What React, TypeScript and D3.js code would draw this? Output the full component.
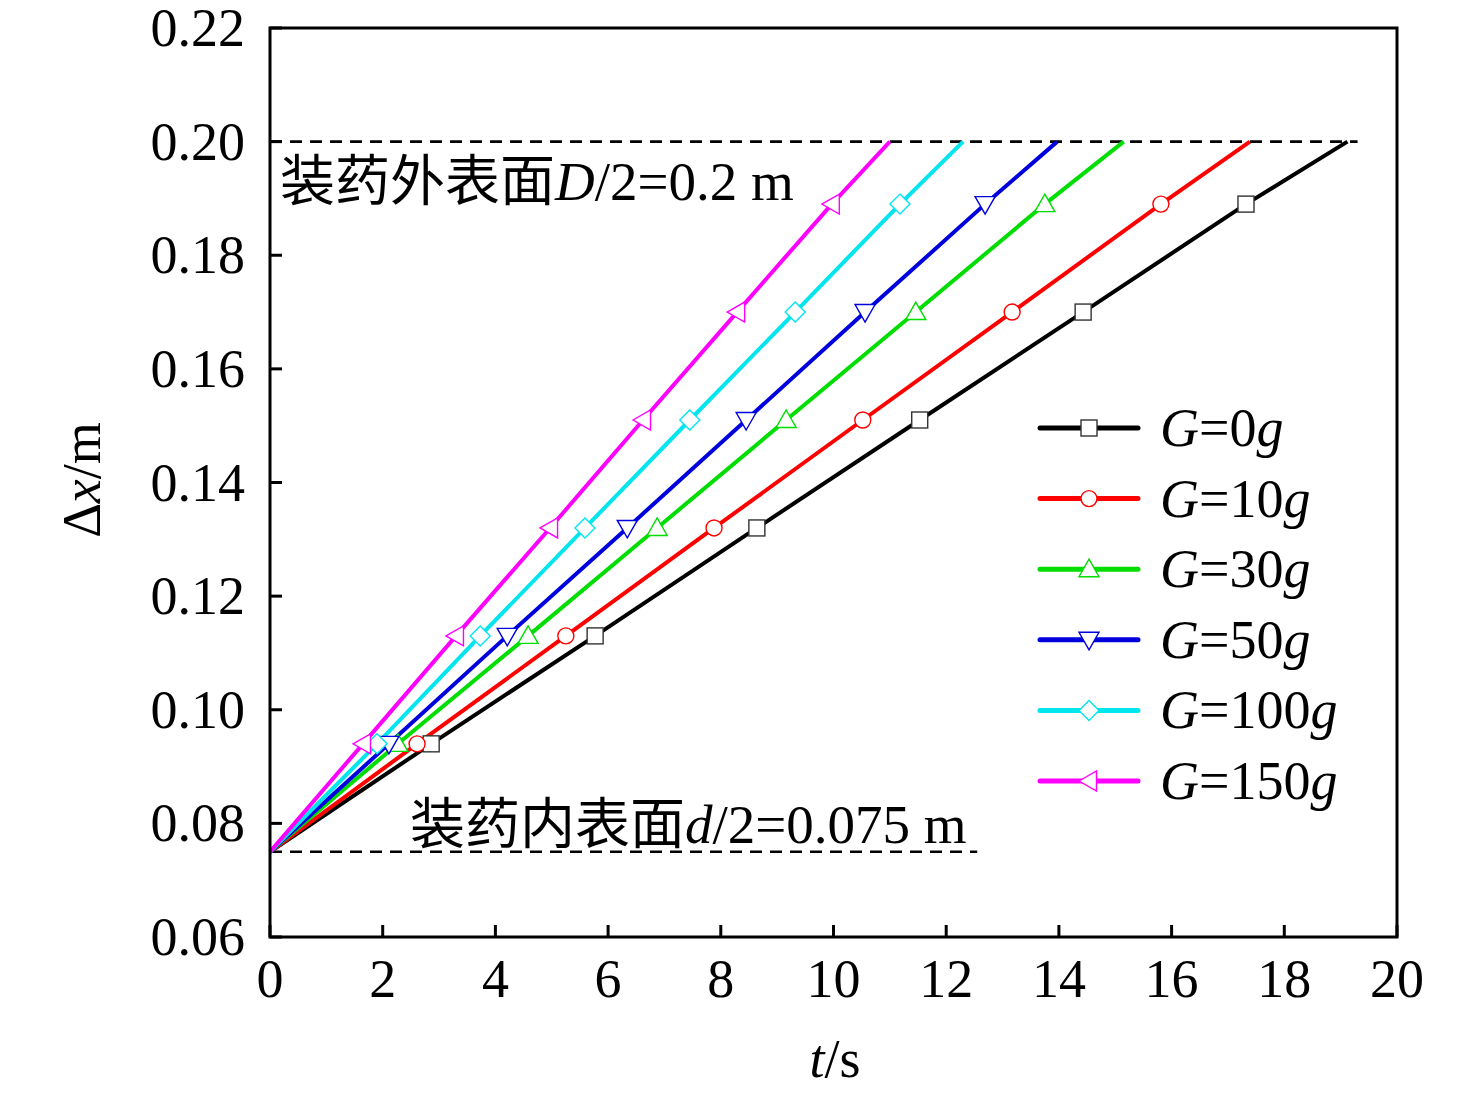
import React from 'react';
import * as d3 from 'd3';

// displacement levels shared by all series (start, six markers, outer surface)
const dxLevels = [0.075, 0.094, 0.113, 0.132, 0.151, 0.17, 0.189, 0.2];

const seriesNames = ['0', '10', '30', '50', '100', '150'];
const seriesColors = ['#000000', '#ff0000', '#00dd00', '#0000dd', '#00e5ee', '#ff00ff'];
const seriesSymbols = ['square', 'circle', 'up', 'down', 'diamond', 'left'];

// time (s) at which each series reaches the levels above
const timesG0 = [0, 2.86, 5.77, 8.64, 11.53, 14.43, 17.32, 19.12];
const timesG10 = [0, 2.61, 5.25, 7.88, 10.52, 13.17, 15.81, 17.39];
const timesG30 = [0, 2.27, 4.58, 6.87, 9.16, 11.46, 13.75, 15.15];
const timesG50 = [0, 2.11, 4.21, 6.34, 8.45, 10.56, 12.69, 13.97];
const timesG100 = [0, 1.9, 3.73, 5.59, 7.45, 9.32, 11.18, 12.3];
const timesG150 = [0, 1.65, 3.3, 4.97, 6.62, 8.29, 9.97, 11.0];
const seriesTimes = [timesG0, timesG10, timesG30, timesG50, timesG100, timesG150];

const xTicks = [0, 2, 4, 6, 8, 10, 12, 14, 16, 18, 20];
const yTicks = [0.06, 0.08, 0.1, 0.12, 0.14, 0.16, 0.18, 0.2, 0.22];

const outerSurface = 0.2;
const outerEndT = 19.3;
const innerSurface = 0.075;
const innerEndT = 12.55;

const W = 1476;
const H = 1095;
const M = { left: 270, right: 1397, top: 28, bottom: 937 };
const serif = '"Liberation Serif", "Times New Roman", serif';
const cjk = '"Noto Sans CJK SC", sans-serif';

const x = d3.scaleLinear().domain([0, 20]).range([M.left, M.right]);
const y = d3.scaleLinear().domain([0.06, 0.22]).range([M.bottom, M.top]);

const line = d3
  .line<[number, number]>()
  .x((d) => x(d[0]))
  .y((d) => y(d[1]));

function Marker({ kind, cx, cy, color }: { kind: string; cx: number; cy: number; color: string }) {
  const s = 8;
  const common = { fill: '#fff', stroke: color, strokeWidth: 1.4 };
  if (kind === 'square') return <rect x={cx - s} y={cy - s} width={2 * s} height={2 * s} {...common} stroke="#333" />;
  if (kind === 'circle') return <circle cx={cx} cy={cy} r={s} {...common} />;
  let pts: number[][] = [];
  const t = 10;
  if (kind === 'up') pts = [[0, -t], [t, t * 0.75], [-t, t * 0.75]];
  if (kind === 'down') pts = [[0, t], [t, -t * 0.75], [-t, -t * 0.75]];
  if (kind === 'left') pts = [[-t, 0], [t * 0.75, -t], [t * 0.75, t]];
  if (kind === 'diamond') pts = [[0, -t], [t, 0], [0, t], [-t, 0]];
  return <polygon points={pts.map((p) => `${cx + p[0]},${cy + p[1]}`).join(' ')} {...common} />;
}

const App: React.FC = () => {
  const legendX = 1040;
  const legendY0 = 428;
  const legendStep = 70.6;

  return (
    <svg width={W} height={H} style={{ position: 'absolute', left: 0, top: 0, background: '#fff' }}>
      {/* reference surfaces */}
      <line x1={x(0)} x2={x(outerEndT)} y1={y(outerSurface)} y2={y(outerSurface)} stroke="#000" strokeWidth={2.6} strokeDasharray="12 8" />
      <line x1={x(0)} x2={x(innerEndT)} y1={y(innerSurface)} y2={y(innerSurface)} stroke="#000" strokeWidth={2.6} strokeDasharray="12 8" />

      {/* series lines */}
      {seriesTimes.map((ts, i) => (
        <path
          key={`l${i}`}
          d={line(ts.map((t, j) => [t, dxLevels[j]] as [number, number])) || ''}
          fill="none"
          stroke={seriesColors[i]}
          strokeWidth={4}
          strokeLinejoin="round"
        />
      ))}
      {seriesTimes.map((ts, i) =>
        ts.slice(1, 7).map((t, j) => (
          <Marker key={`m${i}-${j}`} kind={seriesSymbols[i]} cx={x(t)} cy={y(dxLevels[j + 1])} color={seriesColors[i]} />
        ))
      )}

      {/* annotations */}
      <text x={280} y={200} fontSize={55}>
        <tspan fontFamily={cjk}>装药外表面</tspan>
        <tspan fontFamily={serif} fontStyle="italic">D</tspan>
        <tspan fontFamily={serif}>/2=0.2 m</tspan>
      </text>
      <text x={410} y={843} fontSize={55}>
        <tspan fontFamily={cjk}>装药内表面</tspan>
        <tspan fontFamily={serif} fontStyle="italic">d</tspan>
        <tspan fontFamily={serif}>/2=0.075 m</tspan>
      </text>

      {/* frame */}
      <rect x={M.left} y={M.top} width={M.right - M.left} height={M.bottom - M.top} fill="none" stroke="#000" strokeWidth={3} />

      {/* x ticks */}
      {xTicks.map((t) => (
        <g key={`xt${t}`}>
          <line x1={x(t)} x2={x(t)} y1={M.bottom} y2={M.bottom - 12} stroke="#000" strokeWidth={3} />
          <text x={x(t)} y={997} textAnchor="middle" fontFamily={serif} fontSize={54}>
            {t}
          </text>
        </g>
      ))}
      {/* y ticks */}
      {yTicks.map((v) => (
        <g key={`yt${v}`}>
          <line x1={M.left} x2={M.left + 12} y1={y(v)} y2={y(v)} stroke="#000" strokeWidth={3} />
          <text x={245} y={y(v) + 18} textAnchor="end" fontFamily={serif} fontSize={54}>
            {d3.format('.2f')(v)}
          </text>
        </g>
      ))}

      {/* axis titles */}
      <text x={835} y={1077} textAnchor="middle" fontFamily={serif} fontSize={54}>
        <tspan fontStyle="italic">t</tspan>/s
      </text>
      <text transform="translate(100,480) rotate(-90)" textAnchor="middle" fontFamily={serif} fontSize={54}>
        Δ<tspan fontStyle="italic">x</tspan>/m
      </text>

      {/* legend */}
      {seriesNames.map((n, i) => {
        const ly = legendY0 + i * legendStep;
        return (
          <g key={`lg${i}`}>
            <line x1={legendX} x2={legendX + 98} y1={ly} y2={ly} stroke={seriesColors[i]} strokeWidth={5} strokeLinecap="round" />
            <Marker kind={seriesSymbols[i]} cx={legendX + 49} cy={ly} color={seriesColors[i]} />
            <text x={1160} y={ly + 18} fontFamily={serif} fontSize={54}>
              <tspan fontStyle="italic">G</tspan>={n}
              <tspan fontStyle="italic">g</tspan>
            </text>
          </g>
        );
      })}
    </svg>
  );
};

export default App;
